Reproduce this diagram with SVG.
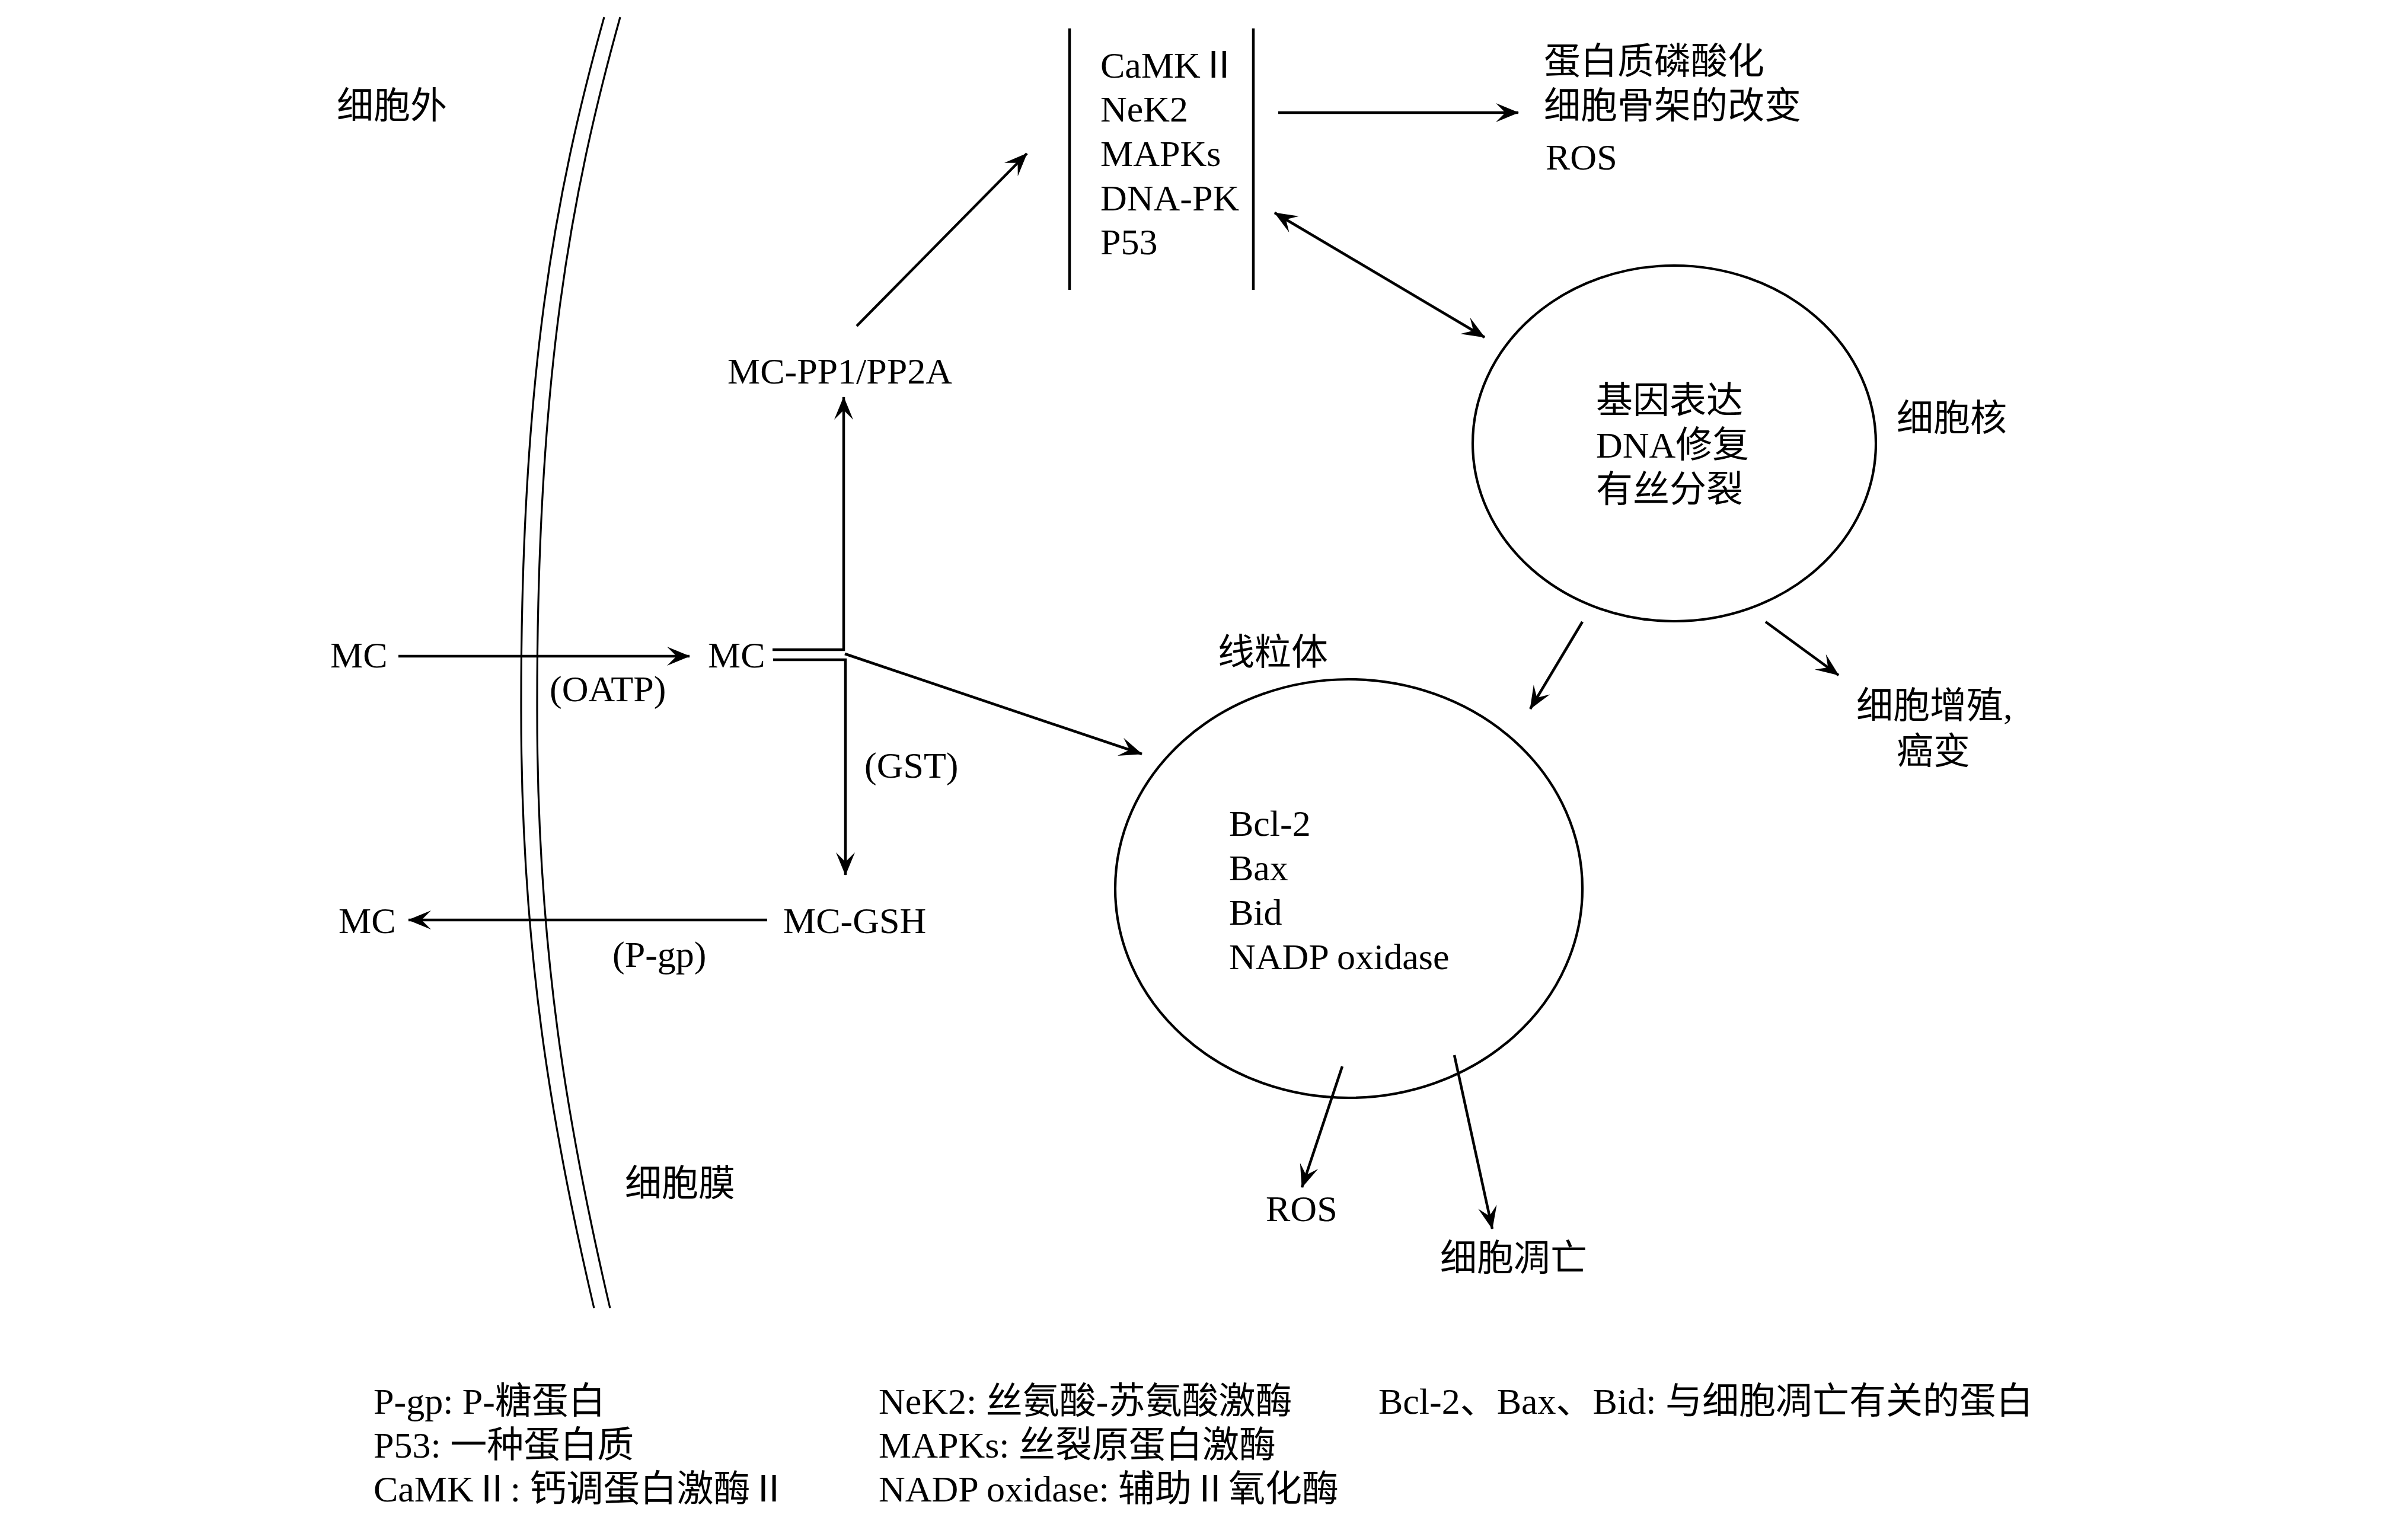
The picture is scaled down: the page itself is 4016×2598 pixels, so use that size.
<svg xmlns="http://www.w3.org/2000/svg" width="4016" height="2598" viewBox="0 0 4016 2598">
<style>
.t{font-family:'Liberation Serif','Noto Sans CJK SC',serif;font-size:62px;fill:#000}
.ln{stroke:#000;stroke-width:4.5;fill:none}
.ae{marker-end:url(#ah)}
.ab{marker-start:url(#ah);marker-end:url(#ah)}
.mem{stroke:#000;stroke-width:3.2;fill:none}
.org{stroke:#000;stroke-width:4.2;fill:none}
</style>
<defs>
<marker id="ah" viewBox="-40 -18 42 36" refX="0" refY="0" markerWidth="42" markerHeight="36" markerUnits="userSpaceOnUse" orient="auto-start-reverse">
<path d="M1,0 L-38,-16 L-22,0 L-38,16 Z" fill="#000"/>
</marker>
</defs>
<rect width="4016" height="2598" fill="#fff"/>

<g id="extracellular">
<text class="t" x="568" y="200">细胞外</text>
</g>

<g id="membrane">
<path class="mem" d="M1019,29 C935,330 878,640 879,1200 C879,1600 930,1900 1002,2207"/>
<path class="mem" d="M1046,29 C962,330 905,640 906,1200 C906,1600 957,1900 1029,2207"/>
<text class="t" x="1054" y="2018">细胞膜</text>
</g>

<g id="kinases">
<line class="ln" x1="1804" y1="48" x2="1804" y2="489"/>
<line class="ln" x1="2114" y1="48" x2="2114" y2="489"/>
<text class="t" x="1856" y="131">CaMKⅡ</text>
<text class="t" x="1856" y="205">NeK2</text>
<text class="t" x="1856" y="280">MAPKs</text>
<text class="t" x="1856" y="355">DNA-PK</text>
<text class="t" x="1856" y="429">P53</text>
</g>

<g id="effects">
<text class="t" x="2604" y="125">蛋白质磷酸化</text>
<text class="t" x="2604" y="200">细胞骨架的改变</text>
<text class="t" x="2607" y="286">ROS</text>
</g>

<g id="mc-pp1">
<text class="t" x="1227" y="647">MC-PP1/PP2A</text>
</g>

<g id="nucleus">
<ellipse class="org" cx="2824" cy="748" rx="340" ry="300"/>
<text class="t" x="2692" y="697">基因表达</text>
<text class="t" x="2692" y="772">DNA修复</text>
<text class="t" x="2692" y="847">有丝分裂</text>
</g>
<g id="nucleus-label">
<text class="t" x="3199" y="727">细胞核</text>
</g>

<g id="mc-outside">
<text class="t" x="557" y="1126">MC</text>
</g>
<g id="oatp">
<text class="t" x="927" y="1183">(OATP)</text>
</g>
<g id="mc-inside">
<text class="t" x="1194" y="1126">MC</text>
</g>
<g id="gst">
<text class="t" x="1458" y="1312">(GST)</text>
</g>
<g id="mc-gsh">
<text class="t" x="1321" y="1574">MC-GSH</text>
</g>
<g id="mc-exported">
<text class="t" x="571" y="1574">MC</text>
</g>
<g id="pgp">
<text class="t" x="1033" y="1631">(P-gp)</text>
</g>

<g id="mitochondrion">
<ellipse class="org" cx="2275" cy="1499" rx="394" ry="353"/>
<text class="t" x="2073" y="1410">Bcl-2</text>
<text class="t" x="2073" y="1485">Bax</text>
<text class="t" x="2073" y="1560">Bid</text>
<text class="t" x="2073" y="1635">NADP oxidase</text>
</g>
<g id="mitochondrion-label">
<text class="t" x="2054" y="1122">线粒体</text>
</g>

<g id="proliferation">
<text class="t" x="3131" y="1212">细胞增殖,</text>
<text class="t" x="3199" y="1289">癌变</text>
</g>

<g id="ros-mito">
<text class="t" x="2135" y="2060">ROS</text>
</g>
<g id="apoptosis">
<text class="t" x="2429" y="2144">细胞凋亡</text>
</g>

<g id="legend">
<text class="t" x="630" y="2385">P-gp: P-糖蛋白</text>
<text class="t" x="630" y="2459">P53: 一种蛋白质</text>
<text class="t" x="630" y="2533">CaMKⅡ: 钙调蛋白激酶Ⅱ</text>
<text class="t" x="1482" y="2385">NeK2: 丝氨酸-苏氨酸激酶</text>
<text class="t" x="1482" y="2459">MAPKs: 丝裂原蛋白激酶</text>
<text class="t" x="1482" y="2533">NADP oxidase: 辅助Ⅱ氧化酶</text>
<text class="t" x="2325" y="2385">Bcl-2、Bax、Bid: 与细胞凋亡有关的蛋白</text>
</g>

<g id="connectors">
<line class="ln ae" x1="672" y1="1107" x2="1163" y2="1107"/>
<line class="ln ae" x1="1294" y1="1552" x2="689" y2="1552"/>
<path class="ln ae" d="M1303,1096 H1423 V670"/>
<path class="ln ae" d="M1304,1113 H1426 V1476"/>
<line class="ln ae" x1="1425" y1="1103" x2="1926" y2="1272"/>
<line class="ln ae" x1="1445" y1="550" x2="1732" y2="259"/>
<line class="ln ae" x1="2156" y1="190" x2="2561" y2="190"/>
<line class="ln ab" x1="2150" y1="359" x2="2504" y2="569"/>
<line class="ln ae" x1="2669" y1="1049" x2="2581" y2="1196"/>
<line class="ln ae" x1="2978" y1="1049" x2="3101" y2="1139"/>
<line class="ln ae" x1="2264" y1="1799" x2="2196" y2="2003"/>
<line class="ln ae" x1="2453" y1="1780" x2="2517" y2="2073"/>
</g>
</svg>
